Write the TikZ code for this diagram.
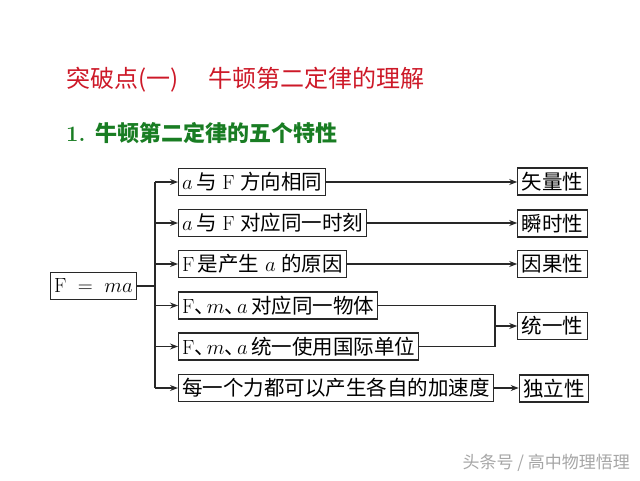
\documentclass[tikz,border=0pt]{standalone}
\usepackage{fontspec}
\usepackage{amsmath}
\newfontfamily\cjk{Noto Sans CJK SC}
\usetikzlibrary{arrows.meta, positioning, calc}

\definecolor{titlered}{RGB}{205,25,40}
\definecolor{subgreen}{RGB}{25,125,35}
\definecolor{linegray}{RGB}{40,40,40}

\newcommand{\dun}{、\hspace{-8pt}}

\begin{document}
\begin{tikzpicture}[
  x=1pt, y=-1pt,
  pnode/.style={draw=linegray, line width=1.1pt, minimum height=27pt, inner sep=3.5pt, anchor=west, font=\cjk\fontsize{20.5}{24}\selectfont},
  rnode/.style={draw=linegray, line width=1.1pt, minimum height=27pt, inner sep=4pt, font=\cjk\fontsize{20.5}{24}\selectfont},
  wire/.style={draw=linegray, line width=1.1pt},
  edge/.style={wire, -{Stealth[length=8pt, width=6pt]}},
  lab/.style={anchor=west, inner sep=0pt}
]
\useasboundingbox (0,0) rectangle (640,480);

% headings
\node[lab, text=titlered, font=\cjk\fontsize{24}{28}\selectfont] (title) at (66,80) {突破点(一)\hspace{30pt}牛顿第二定律的理解};
\node[lab, text=subgreen, font=\cjk\bfseries\fontsize{22}{26}\selectfont] (subtitle) at (66,133) {{\normalfont\bfseries 1.}\hspace{10pt}牛顿第二定律的五个特性};

% law and properties
\node[rnode, minimum width=77pt] (law) at (93.5,286) {$\mathrm{F}\;=\;ma$};
\node[pnode] (b1) at (178,182) {$a$\,与\;$\mathrm{F}$\;方向相同};
\node[pnode] (b2) at (178,223) {$a$\,与\;$\mathrm{F}$\;对应同一时刻};
\node[pnode] (b3) at (178,264) {$\mathrm{F}$\,是产生\;$a$\;的原因};
\node[pnode] (b4) at (178,305.5) {$\mathrm{F}$\dun$m$\dun$a$\,对应同一物体};
\node[pnode] (b5) at (178,346.5) {$\mathrm{F}$\dun$m$\dun$a$\,统一使用国际单位};
\node[pnode] (b6) at (178,388) {每一个力都可以产生各自的加速度};

\node[rnode] (r1) at (552.5,181.5) {矢量性};
\node[rnode] (r2) at (552.5,223.5) {瞬时性};
\node[rnode] (r3) at (552.5,264) {因果性};
\node[rnode] (r4) at (552.5,326) {统一性};
\node[rnode] (r5) at (554,388.5) {独立性};

% branches
\coordinate (tk) at (155,0);
\coordinate (mg) at (495,0);
\draw[wire] (law.east) -- (law.east -| tk);
\draw[wire] (tk |- b1.west) -- (tk |- b6.west);
\foreach \n in {b1,b2,b3,b4,b5,b6}
  \draw[edge] (tk |- \n.west) -- (\n.west);

\draw[edge] (b1.east) -- (r1.west |- b1.east);
\draw[edge] (b2.east) -- (r2.west |- b2.east);
\draw[edge] (b3.east) -- (r3.west |- b3.east);
\draw[wire] (b4.east) -- (mg |- b4.east) -- (mg |- b5.east) -- (b5.east);
\draw[edge] (mg |- r4.west) -- (r4.west);
\draw[edge] (b6.east) -- (r5.west |- b6.east);

\node[anchor=east, inner sep=0pt, text=black!35, font=\cjk\fontsize{17}{20}\selectfont] (mark) at (630,463) {头条号 / 高中物理悟理};
\end{tikzpicture}
\end{document}
